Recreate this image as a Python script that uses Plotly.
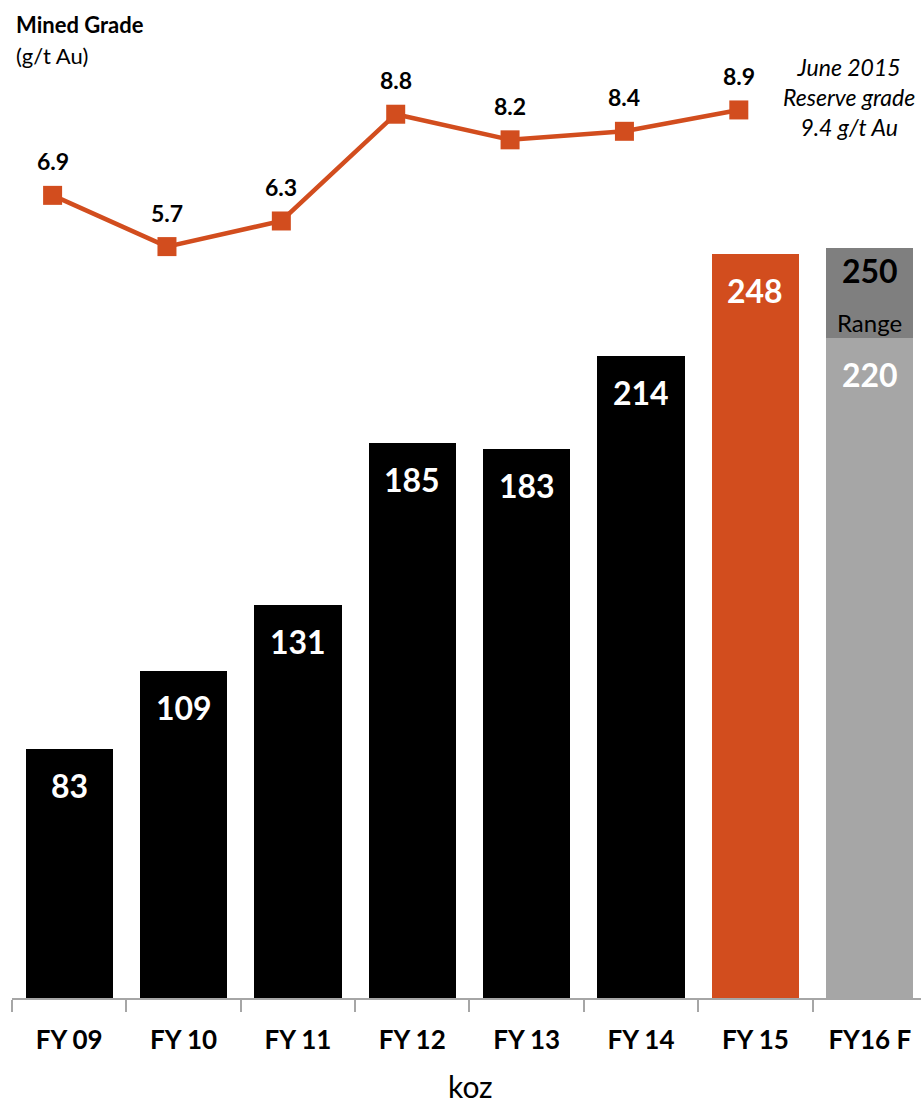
import plotly.graph_objects as go

categories = ["FY 09", "FY 10", "FY 11", "FY 12", "FY 13", "FY 14", "FY 15", "FY16 F"]
production_koz = [83, 109, 131, 185, 183, 214, 248]
fy16_low = 220
fy16_high = 250
grade_years = ["FY 09", "FY 10", "FY 11", "FY 12", "FY 13", "FY 14", "FY 15"]
mined_grade = [6.9, 5.7, 6.3, 8.8, 8.2, 8.4, 8.9]

ORANGE = "#D24D1E"
FONT = "Lato"

bar_colors = ["#000000"] * 6 + [ORANGE, "#A6A6A6"]

fig = go.Figure()
fig.add_trace(go.Bar(
    x=categories, y=production_koz + [fy16_low],
    marker=dict(color=bar_colors, line=dict(width=0)),
    showlegend=False, hoverinfo="skip",
))
fig.add_trace(go.Bar(
    x=[categories[-1]], y=[fy16_high - fy16_low],
    marker=dict(color="#7F7F7F", line=dict(width=0)),
    showlegend=False, hoverinfo="skip",
))
fig.add_trace(go.Scatter(
    x=grade_years, y=mined_grade, xaxis="x2", yaxis="y2",
    mode="lines+markers",
    line=dict(color=ORANGE, width=4.5),
    marker=dict(symbol="square", size=19, color=ORANGE),
    cliponaxis=False, showlegend=False, hoverinfo="skip",
))

ann = []
for c, v in zip(categories[:7], production_koz):
    ann.append(dict(x=c, y=v, xref="x", yref="y", text=f"<b>{v}</b>", showarrow=False,
                    yanchor="middle", yshift=-36,
                    font=dict(family=FONT, size=32, color="white")))
ann.append(dict(x=categories[-1], y=fy16_high, xref="x", yref="y", text=f"<b>{fy16_high}</b>",
                showarrow=False, yanchor="middle", yshift=-22,
                font=dict(family=FONT, size=32, color="black")))
ann.append(dict(x=categories[-1], y=fy16_low, xref="x", yref="y", text="Range",
                showarrow=False, yanchor="middle", yshift=16,
                font=dict(family=FONT, size=24, color="black")))
ann.append(dict(x=categories[-1], y=fy16_low, xref="x", yref="y", text=f"<b>{fy16_low}</b>",
                showarrow=False, yanchor="middle", yshift=-36,
                font=dict(family=FONT, size=32, color="white")))
for c, g in zip(grade_years, mined_grade):
    ann.append(dict(x=c, y=g, xref="x2", yref="y2", text=f"<b>{g}</b>", showarrow=False,
                    yanchor="middle", yshift=34,
                    font=dict(family=FONT, size=23, color="black")))
ann.append(dict(x=14, y=25, xref="paper", yref="paper", text="<b>Mined Grade</b>",
                showarrow=False, xanchor="left", yanchor="middle",
                font=dict(family=FONT, size=22, color="black")))
ann.append(dict(x=14, y=55, xref="paper", yref="paper", text="(g/t Au)",
                showarrow=False, xanchor="left", yanchor="middle",
                font=dict(family=FONT, size=22, color="black")))
ann.append(dict(x=849, y=97, xref="paper", yref="paper",
                text="<i>June 2015<br>Reserve grade<br>9.4 g/t Au</i>",
                showarrow=False, xanchor="center", yanchor="middle", align="center",
                font=dict(family=FONT, size=23, color="black")))
ann.append(dict(x=470, y=1086, xref="paper", yref="paper", text="koz",
                showarrow=False, xanchor="center", yanchor="middle",
                font=dict(family=FONT, size=30, color="black")))

W, H = 921, 1105
ML, MR, MT, MB = 12, 0, 0, 107
pw, ph = W - ML - MR, H - MT - MB
for a in ann:
    if a["xref"] == "paper":
        a["x"] = (a["x"] - ML) / pw
        a["y"] = 1 - (a["y"] - MT) / ph

d = 0.145
fig.update_layout(
    width=W, height=H,
    margin=dict(l=ML, r=MR, t=MT, b=MB),
    paper_bgcolor="white", plot_bgcolor="white",
    barmode="stack", bargap=0.237,
    annotations=ann,
    xaxis=dict(type="category", categoryarray=categories, range=[-0.5, 7.448],
               showline=True, linecolor="#A6A6A6", linewidth=1.5,
               ticks="outside", tickson="boundaries", ticklen=12, tickcolor="#A6A6A6", tickwidth=1.5,
               tickfont=dict(family=FONT, size=26, color="black"),
               showgrid=False, zeroline=False, ticklabelstandoff=18,
               tickprefix="<b>", ticksuffix="</b>"),
    xaxis2=dict(type="category", categoryarray=categories, overlaying="x",
                range=[-0.5 + d, 7.448 + d], visible=False),
    yaxis=dict(range=[0, 998 / 3.0], visible=False, showgrid=False, zeroline=False),
    yaxis2=dict(range=[-11.897, 11.475], overlaying="y", visible=False,
                showgrid=False, zeroline=False),
)
fig.write_html("out.html", config={"displayModeBar": False},
               post_script="document.body.style.margin='0';document.body.style.overflow='hidden';")
